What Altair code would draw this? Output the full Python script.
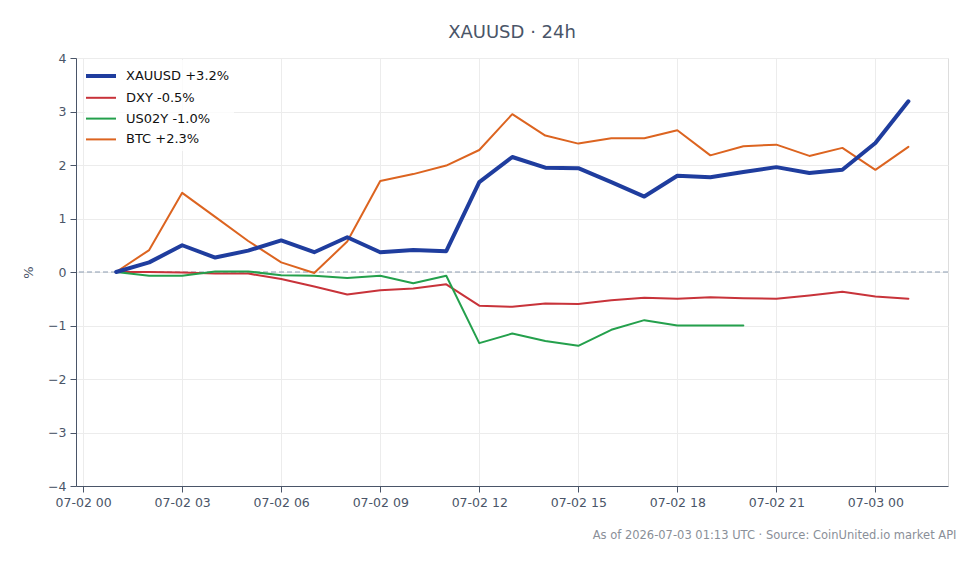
import altair as alt
import pandas as pd

hours = [f"2026-07-02T{h:02d}:00:00" for h in range(1, 24)] + ["2026-07-03T00:00:00", "2026-07-03T01:00:00"]

xauusd = [0.0, 0.18, 0.50, 0.27, 0.40, 0.59, 0.37, 0.65, 0.37, 0.41, 0.39, 1.68, 2.15, 1.95, 1.94,
          1.68, 1.41, 1.80, 1.77, 1.87, 1.96, 1.85, 1.91, 2.41, 3.19]
dxy = [0.0, -0.00, -0.01, -0.03, -0.03, -0.13, -0.27, -0.42, -0.34, -0.31, -0.23, -0.63, -0.65, -0.59, -0.60,
       -0.53, -0.48, -0.50, -0.47, -0.49, -0.50, -0.44, -0.37, -0.46, -0.50]
us02y = [0.0, -0.07, -0.07, 0.01, 0.01, -0.06, -0.07, -0.11, -0.07, -0.21, -0.07, -1.33, -1.15, -1.29, -1.38,
         -1.08, -0.90, -1.00, -1.00, -1.00]
btc = [0.0, 0.41, 1.48, 1.03, 0.58, 0.18, -0.02, 0.57, 1.70, 1.83, 1.99, 2.28, 2.95, 2.55, 2.40,
       2.50, 2.50, 2.65, 2.18, 2.35, 2.38, 2.17, 2.32, 1.91, 2.34]

names = ["XAUUSD +3.2%", "DXY -0.5%", "US02Y -1.0%", "BTC +2.3%"]
colors = ["#1f3d9e", "#c8333a", "#24a04c", "#dc6420"]
widths = [4, 2, 2, 2]
tick_hours = [(d, h) for d, h in [(2, 0), (2, 3), (2, 6), (2, 9), (2, 12), (2, 15), (2, 18), (2, 21), (3, 0)]]

rows = []
for name, vals in zip(names, [xauusd, dxy, us02y, btc]):
    for t, v in zip(hours, vals):
        rows.append({"time": t, "series": name, "pct": v})
df = pd.DataFrame(rows)

font = "DejaVu Sans"
axis_color = "#4a5568"

x_enc = alt.X(
    "time:T",
    scale=alt.Scale(domain=[alt.DateTime(year=2026, month=7, date=1, hours=23, minutes=47),
                            alt.DateTime(year=2026, month=7, date=3, hours=2, minutes=12)]),
    axis=alt.Axis(
        values=[alt.DateTime(year=2026, month=7, date=d, hours=h) for d, h in tick_hours],
        format="%m-%d %H", labelAngle=0, grid=True, gridColor="#ececec",
        domainColor=axis_color, tickColor=axis_color, tickSize=6, labelPadding=4,
        labelColor=axis_color, labelFontSize=12.5, labelFont=font,
        title="As of 2026-07-03 01:13 UTC \u00b7 Source: CoinUnited.io market API",
        titleFont=font, titleFontSize=11.5, titleColor="#8a8f98", titleFontWeight="normal",
        titleAlign="right", titleAnchor="end", titleX=880, titleY=52, titleBaseline="alphabetic",
    ),
)
y_enc = alt.Y(
    "pct:Q",
    scale=alt.Scale(domain=[-4, 4], nice=False),
    axis=alt.Axis(
        values=[-4, -3, -2, -1, 0, 1, 2, 3, 4], grid=True, gridColor="#ececec",
        domainColor=axis_color, tickColor=axis_color, tickSize=6, labelPadding=4,
        labelColor=axis_color, labelFontSize=12.5, labelFont=font,
        title="%", titleFont=font, titleFontSize=13, titleColor=axis_color,
        titleFontWeight="normal", titlePadding=12,
    ),
)
legend_kw = dict(
    title=None, orient="none", legendX=9, legendY=2,
    symbolType="M-1.5,0H1.5", symbolSize=400, labelFont=font, labelFontSize=13,
    labelColor="#111111", labelOffset=13, rowPadding=2.8,
    fillColor="rgba(255,255,255,0.8)", padding=4,
)
color_enc = alt.Color(
    "series:N",
    scale=alt.Scale(domain=names, range=colors),
    sort=names,
    legend=alt.Legend(**legend_kw),
)
sw_enc = alt.StrokeWidth(
    "series:N",
    scale=alt.Scale(type="ordinal", domain=names, range=widths),
    sort=names,
    legend=alt.Legend(**legend_kw),
)

base = alt.Chart(df)
others = base.transform_filter(alt.datum.series != names[0]).mark_line(
    strokeJoin="round", strokeCap="round"
).encode(x=x_enc, y=y_enc, color=color_enc, strokeWidth=sw_enc, detail="series:N")
gold = base.transform_filter(alt.datum.series == names[0]).mark_line(
    strokeJoin="round", strokeCap="round"
).encode(x=x_enc, y=y_enc, color=color_enc, strokeWidth=sw_enc)

zero = alt.Chart(pd.DataFrame({"z": [0]})).mark_rule(
    color="#8a9bb0", strokeDash=[5, 3], strokeWidth=1
).encode(y="z:Q")

chart = alt.layer(zero, others, gold).properties(
    width=872, height=428,
    autosize=alt.AutoSizeParams(type="none"),
    padding={"left": 76, "top": 58, "right": 32, "bottom": 78},
    title=alt.Title("XAUUSD \u00b7 24h", font=font, fontSize=18, fontWeight="normal",
                    color=axis_color, anchor="middle", offset=10),
).configure_view(stroke=None).configure(background="white")

chart.save("out.html", embed_options={"renderer": "svg", "actions": False})
